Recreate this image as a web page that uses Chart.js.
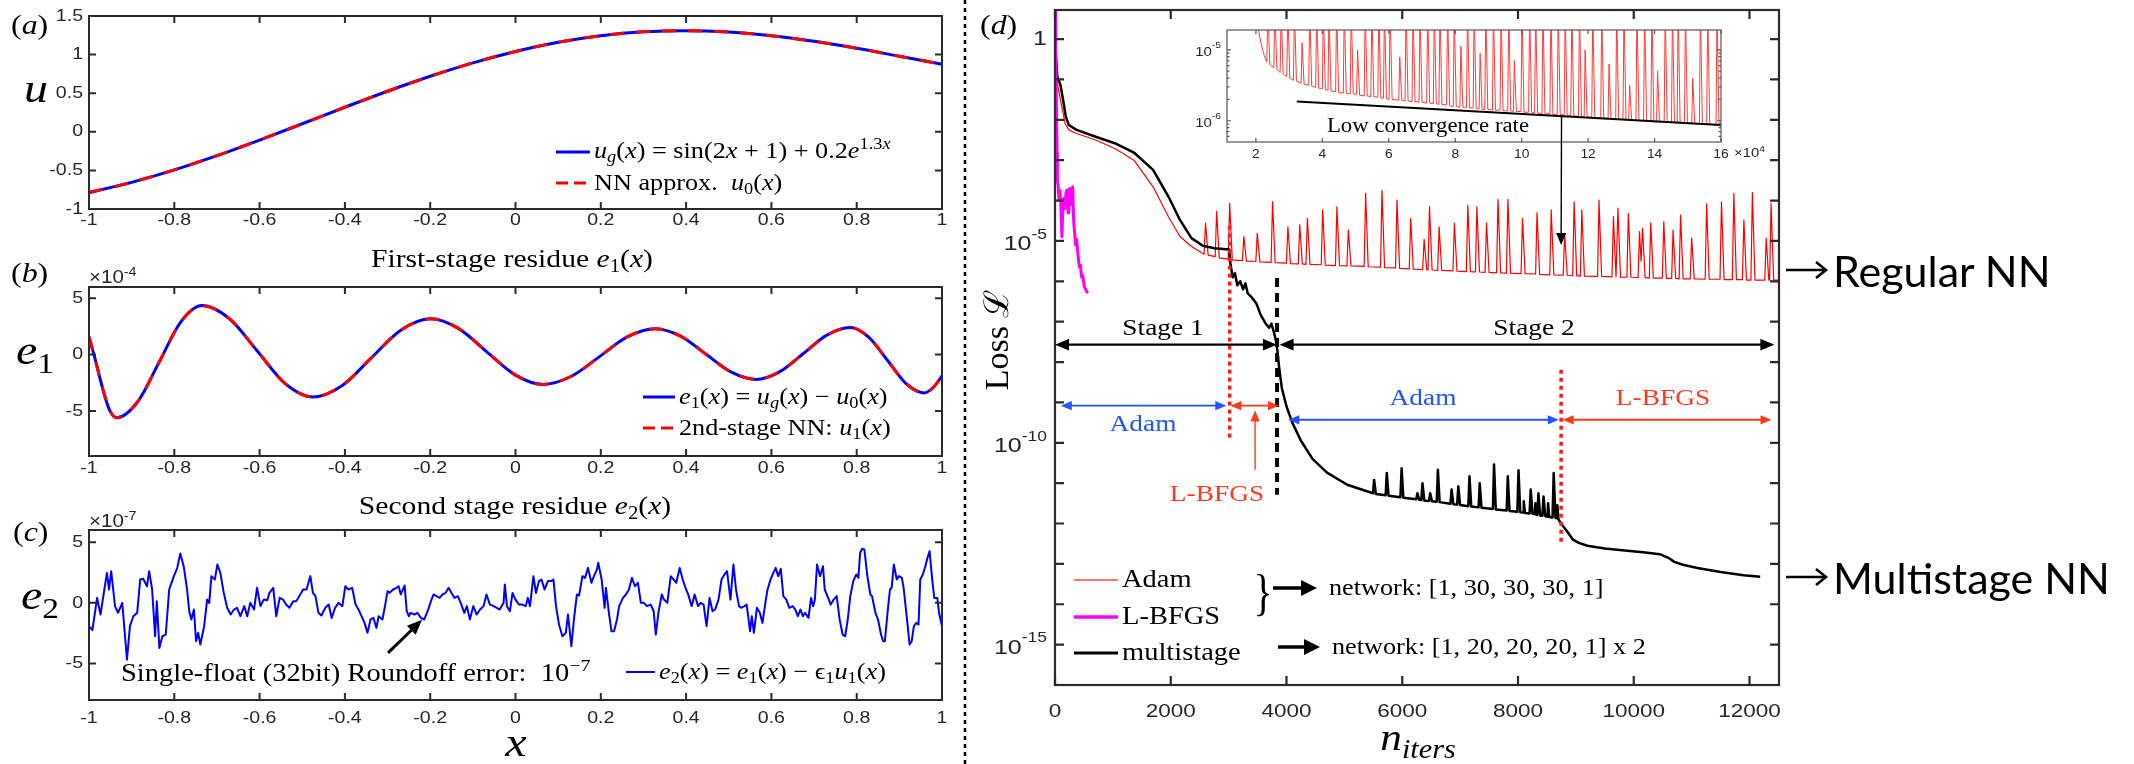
<!DOCTYPE html>
<html>
<head>
<meta charset="utf-8">
<script src="https://cdn.jsdelivr.net/npm/chart.js@4.4.0/dist/chart.umd.min.js"></script>
<style>
  html, body { margin: 0; padding: 0; background: #fff; }
  #page { position: relative; width: 2134px; height: 764px; overflow: hidden; }
  canvas { position: absolute; left: 0; top: 0; }
  svg { position: absolute; left: 0; top: 0; }
  .t { position: absolute; white-space: nowrap; line-height: 1; color: #000;
       font-family: "Liberation Serif", "DejaVu Serif", serif; }
  .c { transform: translate(-50%, -50%) scaleX(1.14); }
  .l { transform-origin: 0 50%; transform: translateY(-50%) scaleX(1.14); }
  .s { font-family: "Liberation Sans", Arial, sans-serif; color: #262626; }
  .n { font-family: Lato, "Open Sans", sans-serif; }
  sub, sup { font-size: 0.7em; line-height: 0; }
  sub { vertical-align: -0.3em; }
  sup { vertical-align: 0.55em; }
</style>
</head>
<body>
<div id="page">
  <canvas id="ca" width="2134" height="764"></canvas>
  <canvas id="cb" width="2134" height="764"></canvas>
  <canvas id="cc" width="2134" height="764"></canvas>
  <canvas id="cd" width="2134" height="764"></canvas>
  <canvas id="ci" width="2134" height="764"></canvas>

  <svg width="2134" height="764">
    <line x1="965" y1="0" x2="965" y2="764" stroke="#000" stroke-width="2.5" stroke-dasharray="4 4"/>
    <!-- legend samples (a), (b), (c) -->
    <line x1="556" y1="152" x2="590" y2="152" stroke="#0000ff" stroke-width="3"/>
    <line x1="556" y1="183" x2="590" y2="183" stroke="#ff0000" stroke-width="3" stroke-dasharray="12 6"/>
    <line x1="643" y1="397" x2="675" y2="397" stroke="#0000ff" stroke-width="3"/>
    <line x1="643" y1="428" x2="675" y2="428" stroke="#ff0000" stroke-width="3" stroke-dasharray="12 6"/>
    <line x1="626" y1="672" x2="655" y2="672" stroke="#0000ff" stroke-width="2"/>
    <!-- legend samples (d) -->
    <line x1="1074" y1="580" x2="1118" y2="580" stroke="#ff4d4d" stroke-width="1.6"/>
    <line x1="1074" y1="617" x2="1118" y2="617" stroke="#ff00ff" stroke-width="3.5"/>
    <line x1="1074" y1="653" x2="1118" y2="653" stroke="#000" stroke-width="3"/>
    <line x1="1273" y1="588" x2="1303" y2="588" stroke="#000" stroke-width="3.5"/>
    <polygon points="1301,580 1317,588 1301,596" fill="#000"/>
    <line x1="1278" y1="647" x2="1306" y2="647" stroke="#000" stroke-width="3.5"/>
    <polygon points="1304,639 1320,647 1304,655" fill="#000"/>
    <!-- side arrows -->
    <path d="M1786 270 H1826 M1816 262 L1826 270 L1816 278" stroke="#000" stroke-width="2.6" fill="none"/>
    <path d="M1786 577 H1826 M1816 569 L1826 577 L1816 585" stroke="#000" stroke-width="2.6" fill="none"/>
  </svg>

  <!-- panel (a) -->
  <div class="t l" style="left:11px;top:25px;font-size:28px">(<i>a</i>)</div>
  <div class="t c" style="left:36px;top:88px;font-size:42px"><i>u</i></div>
  <div class="t l" style="left:594px;top:150px;font-size:23px"><i>u<sub>g</sub></i>(<i>x</i>) = sin(2<i>x</i> + 1) + 0.2<i>e</i><sup>1.3<i>x</i></sup></div>
  <div class="t l" style="left:594px;top:182px;font-size:23px">NN approx.&nbsp; <i>u</i><sub>0</sub>(<i>x</i>)</div>
  <div class="t c" style="left:512px;top:259px;font-size:26px">First-stage residue <i>e</i><sub>1</sub>(<i>x</i>)</div>

  <!-- panel (b) -->
  <div class="t l" style="left:11px;top:273px;font-size:28px">(<i>b</i>)</div>
  <div class="t l s" style="left:89px;top:277px;font-size:18px">×10<sup>-4</sup></div>
  <div class="t c" style="left:35px;top:350px;font-size:42px"><i>e</i><sub>1</sub></div>
  <div class="t l" style="left:679px;top:396px;font-size:23px"><i>e</i><sub>1</sub>(<i>x</i>) = <i>u<sub>g</sub></i>(<i>x</i>) − <i>u</i><sub>0</sub>(<i>x</i>)</div>
  <div class="t l" style="left:679px;top:427px;font-size:23px">2nd-stage NN: <i>u</i><sub>1</sub>(<i>x</i>)</div>
  <div class="t c" style="left:515px;top:506px;font-size:26px">Second stage residue <i>e</i><sub>2</sub>(<i>x</i>)</div>

  <!-- panel (c) -->
  <div class="t l" style="left:13px;top:532px;font-size:28px">(<i>c</i>)</div>
  <div class="t l s" style="left:89px;top:521px;font-size:18px">×10<sup>-7</sup></div>
  <div class="t c" style="left:40px;top:595px;font-size:42px"><i>e</i><sub>2</sub></div>
  <div class="t l" style="left:121px;top:672px;font-size:25px">Single-float (32bit) Roundoff error:&nbsp; 10<sup>−7</sup></div>
  <div class="t l" style="left:659px;top:671px;font-size:23px"><i>e</i><sub>2</sub>(<i>x</i>) = <i>e</i><sub>1</sub>(<i>x</i>) − ϵ<sub>1</sub><i>u</i><sub>1</sub>(<i>x</i>)</div>
  <div class="t c" style="left:516px;top:742px;font-size:42px"><i>x</i></div>

  <!-- panel (d) -->
  <div class="t l" style="left:980px;top:25px;font-size:28px">(<i>d</i>)</div>
  <div class="t" style="left:997px;top:340px;font-size:34px;transform:translate(-50%,-50%) rotate(-90deg)">Loss ℒ</div>
  <div class="t c" style="left:1418px;top:737px;font-size:38px"><i>n<sub>iters</sub></i></div>
  <div class="t c" style="left:1163px;top:327px;font-size:24px">Stage 1</div>
  <div class="t c" style="left:1534px;top:327px;font-size:24px">Stage 2</div>
  <div class="t c" style="left:1143px;top:423px;font-size:24px;color:#2156ff">Adam</div>
  <div class="t c" style="left:1217px;top:493px;font-size:24px;color:#ff3a1a">L-BFGS</div>
  <div class="t c" style="left:1423px;top:397px;font-size:24px;color:#2156ff">Adam</div>
  <div class="t c" style="left:1663px;top:397px;font-size:24px;color:#ff3a1a">L-BFGS</div>
  <div class="t c" style="left:1428px;top:125px;font-size:20px">Low convergence rate</div>
  <div class="t l s" style="left:1734px;top:152px;font-size:13px">×10<sup>4</sup></div>
  <div class="t l" style="left:1122px;top:578px;font-size:25px">Adam</div>
  <div class="t l" style="left:1122px;top:615px;font-size:25px">L-BFGS</div>
  <div class="t l" style="left:1122px;top:651px;font-size:25px">multistage</div>
  <div class="t c" style="left:1263px;top:592px;font-size:50px;transform:translate(-50%,-50%) scaleX(0.8)">}</div>
  <div class="t l" style="left:1329px;top:587px;font-size:23px">network: [1, 30, 30, 30, 1]</div>
  <div class="t l" style="left:1332px;top:646px;font-size:23px">network: [1, 20, 20, 20, 1] x 2</div>
  <div class="t n" style="left:1833px;top:270px;font-size:43px;transform:translateY(-50%)">Regular NN</div>
  <div class="t n" style="left:1833px;top:577px;font-size:43px;transform:translateY(-50%)">Multistage NN</div>
</div>

<script>
const W = 2134, H = 764;

// ---------- panel (a): u(x) ----------
const xA = [-1, -0.9, -0.8, -0.7, -0.6, -0.5, -0.4, -0.3, -0.2, -0.1, 0, 0.1, 0.2, 0.3, 0.4, 0.5, 0.6, 0.7, 0.8, 0.9, 1];
const uExact = [-0.787, -0.655, -0.494, -0.309, -0.107, 0.104, 0.318, 0.525, 0.719, 0.893, 1.041, 1.160, 1.245, 1.295, 1.310, 1.292, 1.245, 1.172, 1.081, 0.979, 0.875];
const uNN    = [-0.787, -0.655, -0.494, -0.309, -0.107, 0.104, 0.318, 0.525, 0.719, 0.893, 1.041, 1.160, 1.245, 1.295, 1.310, 1.292, 1.245, 1.172, 1.081, 0.979, 0.875];

// ---------- panel (b): first-stage residue, units of 1e-4 ----------
const e1Resid = [[-1.000,1.6],[-0.985,-0.5],[-0.968,-3.0],[-0.952,-4.9],[-0.935,-5.6],[-0.885,-4.14],[-0.835,-0.63],[-0.785,2.89],[-0.735,4.35],[-0.670,3.16],[-0.605,0.30],[-0.540,-2.57],[-0.475,-3.76],[-0.406,-2.74],[-0.338,-0.29],[-0.269,2.16],[-0.200,3.18],[-0.134,2.33],[-0.068,0.27],[-0.001,-1.80],[0.065,-2.65],[0.131,-1.92],[0.197,-0.18],[0.262,1.57],[0.328,2.30],[0.387,1.64],[0.446,0.05],[0.505,-1.54],[0.564,-2.20],[0.619,-1.53],[0.675,0.10],[0.730,1.73],[0.785,2.40],[0.828,1.55],[0.872,-0.50],[0.915,-2.55],[0.958,-3.40],[0.980,-2.90],[1.000,-1.90]];
const e1NN = [[-1.000,1.6],[-0.985,-0.5],[-0.968,-3.0],[-0.952,-4.9],[-0.935,-5.6],[-0.885,-4.14],[-0.835,-0.63],[-0.785,2.89],[-0.735,4.35],[-0.670,3.16],[-0.605,0.30],[-0.540,-2.57],[-0.475,-3.76],[-0.406,-2.74],[-0.338,-0.29],[-0.269,2.16],[-0.200,3.18],[-0.134,2.33],[-0.068,0.27],[-0.001,-1.80],[0.065,-2.65],[0.131,-1.92],[0.197,-0.18],[0.262,1.57],[0.328,2.30],[0.387,1.64],[0.446,0.05],[0.505,-1.54],[0.564,-2.20],[0.619,-1.53],[0.675,0.10],[0.730,1.73],[0.785,2.40],[0.828,1.55],[0.872,-0.50],[0.915,-2.55],[0.958,-3.40],[0.980,-2.90],[1.000,-1.90]];

// ---------- panel (c): second-stage residue, units of 1e-7 ----------
const e2Resid = [[-1.000,-1.92],[-0.992,-2.25],[-0.981,0.41],[-0.973,-0.96],[-0.958,2.47],[-0.953,1.10],[-0.948,2.61],[-0.939,-0.27],[-0.932,-0.82],[-0.922,0.00],[-0.911,-4.67],[-0.904,-1.92],[-0.896,-1.10],[-0.887,-0.82],[-0.880,1.92],[-0.873,1.98],[-0.864,1.37],[-0.859,2.61],[-0.852,1.10],[-0.845,-2.75],[-0.841,0.14],[-0.835,-3.71],[-0.828,-2.75],[-0.820,-2.61],[-0.812,1.10],[-0.801,2.20],[-0.793,2.88],[-0.786,4.07],[-0.778,3.02],[-0.770,1.10],[-0.765,-0.69],[-0.760,-1.37],[-0.754,-0.55],[-0.749,-3.16],[-0.744,-2.47],[-0.739,-3.43],[-0.730,-1.92],[-0.723,0.27],[-0.718,0.00],[-0.713,2.20],[-0.705,1.92],[-0.699,3.16],[-0.692,2.47],[-0.684,0.82],[-0.676,-0.41],[-0.668,-0.96],[-0.660,-0.55],[-0.653,-0.41],[-0.645,-1.10],[-0.636,-0.27],[-0.629,-1.10],[-0.622,0.00],[-0.613,-0.55],[-0.606,1.24],[-0.598,-0.27],[-0.590,0.27],[-0.582,0.22],[-0.577,0.82],[-0.568,1.24],[-0.561,-1.10],[-0.553,0.41],[-0.545,0.27],[-0.538,-0.14],[-0.530,-0.41],[-0.521,0.14],[-0.514,0.14],[-0.507,0.55],[-0.498,1.10],[-0.490,1.10],[-0.481,2.20],[-0.475,0.82],[-0.469,0.55],[-0.462,-0.82],[-0.455,-1.04],[-0.446,-0.41],[-0.438,-0.14],[-0.431,-1.24],[-0.423,-0.41],[-0.415,0.00],[-0.406,-0.27],[-0.399,1.37],[-0.392,1.10],[-0.383,1.24],[-0.375,-0.14],[-0.368,-0.55],[-0.361,-1.10],[-0.354,-1.65],[-0.347,-2.47],[-0.340,-1.37],[-0.333,-1.24],[-0.326,-2.06],[-0.321,-1.10],[-0.312,-1.37],[-0.306,-0.27],[-0.300,0.96],[-0.295,0.82],[-0.287,1.10],[-0.279,1.24],[-0.274,1.37],[-0.269,0.69],[-0.260,1.43],[-0.255,-0.69],[-0.250,-1.10],[-0.246,-0.82],[-0.237,-0.96],[-0.230,-0.82],[-0.222,-1.24],[-0.214,-1.37],[-0.206,-0.69],[-0.197,0.27],[-0.192,0.69],[-0.185,0.55],[-0.178,0.41],[-0.171,0.69],[-0.164,0.82],[-0.157,1.24],[-0.150,0.82],[-0.143,0.41],[-0.135,0.55],[-0.127,-0.14],[-0.120,-0.82],[-0.114,-0.27],[-0.107,-1.37],[-0.099,-0.27],[-0.091,-0.96],[-0.083,-0.55],[-0.075,-0.27],[-0.068,0.69],[-0.060,-0.14],[-0.051,-0.27],[-0.044,-0.41],[-0.037,-0.55],[-0.028,0.00],[-0.025,1.51],[-0.020,-0.27],[-0.013,-0.69],[-0.007,0.82],[0.000,0.27],[0.008,-0.14],[0.016,-0.14],[0.024,-0.27],[0.029,0.41],[0.034,-0.27],[0.042,2.20],[0.048,0.82],[0.055,1.79],[0.061,1.92],[0.068,1.10],[0.076,1.79],[0.084,1.79],[0.089,1.92],[0.095,-0.27],[0.102,-1.79],[0.110,-2.75],[0.118,-2.47],[0.123,-0.96],[0.131,-3.57],[0.137,-1.37],[0.144,0.69],[0.149,0.60],[0.157,2.20],[0.163,2.06],[0.170,2.88],[0.178,1.65],[0.184,2.20],[0.191,2.75],[0.194,3.30],[0.202,1.92],[0.209,-0.41],[0.212,1.24],[0.219,-0.82],[0.225,-2.34],[0.231,-2.34],[0.238,-1.37],[0.243,-0.27],[0.252,0.41],[0.259,0.69],[0.266,1.10],[0.273,2.06],[0.280,1.37],[0.287,1.65],[0.294,0.00],[0.301,0.00],[0.308,-0.27],[0.317,-0.14],[0.324,-0.69],[0.329,-2.61],[0.335,-0.82],[0.343,0.69],[0.348,0.27],[0.356,0.00],[0.364,2.20],[0.371,1.92],[0.377,1.65],[0.385,2.88],[0.392,1.92],[0.400,1.10],[0.405,0.69],[0.413,-0.27],[0.420,0.69],[0.428,-0.27],[0.434,0.00],[0.441,-0.14],[0.448,-1.92],[0.455,0.41],[0.462,-0.69],[0.468,-0.55],[0.476,0.27],[0.483,1.92],[0.490,2.34],[0.496,2.61],[0.504,0.27],[0.511,3.16],[0.517,1.10],[0.524,-0.27],[0.529,-0.41],[0.537,-0.27],[0.542,-0.14],[0.550,-2.34],[0.554,-1.10],[0.559,-2.47],[0.566,-0.41],[0.573,-0.82],[0.579,-1.65],[0.587,0.27],[0.591,1.10],[0.598,1.92],[0.603,2.34],[0.610,2.88],[0.616,2.20],[0.622,2.80],[0.628,0.55],[0.635,0.27],[0.642,-0.41],[0.650,-0.27],[0.656,-0.55],[0.662,-1.10],[0.668,-0.55],[0.674,-1.10],[0.679,-0.82],[0.687,-1.24],[0.693,0.41],[0.698,-0.27],[0.702,0.27],[0.707,3.16],[0.714,2.20],[0.721,3.02],[0.725,1.10],[0.733,0.41],[0.739,-0.14],[0.746,0.27],[0.753,0.55],[0.760,-1.37],[0.767,-2.61],[0.773,-2.75],[0.779,-1.37],[0.785,0.55],[0.792,1.79],[0.799,2.34],[0.804,2.06],[0.808,4.12],[0.813,4.45],[0.818,4.40],[0.825,2.20],[0.832,0.69],[0.836,0.55],[0.844,-0.82],[0.850,-1.37],[0.857,-2.61],[0.862,-3.16],[0.866,-3.16],[0.873,-0.55],[0.878,1.10],[0.882,1.24],[0.887,3.16],[0.894,1.92],[0.899,2.20],[0.906,2.06],[0.910,1.24],[0.918,-1.37],[0.924,-3.43],[0.929,-3.16],[0.934,-1.92],[0.940,-1.65],[0.945,-1.79],[0.949,1.92],[0.955,2.34],[0.961,3.02],[0.966,3.71],[0.971,4.26],[0.977,1.92],[0.982,0.41],[0.989,0.41],[0.993,-0.82],[1.000,-1.92]];

// ---------- panel (d): loss vs iterations, [iteration, log10(loss)] ----------
const adamLoss = [[0,0.0],[41,-1.10],[95,-1.51],[175,-2.09],[240,-2.25],[372,-2.34],[703,-2.50],[1034,-2.71],[1364,-3.00],[1695,-3.66],[1960,-4.40],[2159,-4.89],[2358,-5.14],[2576,-5.33],[2601,-4.56],[2646,-5.35],[2768,-5.39],[2793,-4.27],[2838,-5.42],[2993,-5.45],[3018,-4.07],[3063,-5.47],[3238,-5.49],[3263,-4.89],[3308,-5.50],[3470,-5.51],[3495,-4.81],[3540,-5.52],[3734,-5.53],[3759,-4.03],[3804,-5.54],[3999,-5.55],[4024,-4.65],[4069,-5.56],[4204,-5.57],[4229,-4.60],[4274,-5.57],[4336,-5.58],[4361,-4.44],[4406,-5.58],[4600,-5.59],[4625,-4.23],[4670,-5.60],[4846,-5.61],[4871,-4.15],[4916,-5.61],[5044,-5.62],[5069,-4.73],[5114,-5.62],[5342,-5.63],[5367,-3.82],[5412,-5.64],[5625,-5.65],[5650,-3.75],[5695,-5.66],[5884,-5.67],[5909,-3.99],[5954,-5.68],[6121,-5.69],[6146,-4.44],[6191,-5.70],[6353,-5.71],[6378,-4.96],[6423,-5.71],[6446,-5.72],[6471,-4.15],[6516,-5.72],[6612,-5.73],[6637,-4.65],[6682,-5.73],[6876,-5.74],[6901,-4.56],[6946,-5.75],[7108,-5.76],[7133,-4.11],[7178,-5.76],[7265,-5.77],[7290,-4.15],[7335,-5.77],[7431,-5.78],[7456,-4.55],[7501,-5.78],[7630,-5.79],[7655,-3.97],[7700,-5.79],[7801,-5.80],[7826,-3.97],[7871,-5.80],[8053,-5.81],[8078,-4.44],[8123,-5.81],[8304,-5.82],[8329,-4.30],[8374,-5.83],[8549,-5.84],[8574,-4.23],[8619,-5.84],[8781,-5.85],[8806,-4.81],[8851,-5.85],[8945,-5.86],[8970,-4.03],[9015,-5.86],[9078,-5.87],[9103,-4.23],[9148,-5.87],[9375,-5.88],[9400,-3.99],[9445,-5.88],[9624,-5.89],[9649,-4.40],[9694,-5.89],[9702,-5.89],[9727,-4.19],[9772,-5.90],[9882,-5.90],[9907,-4.32],[9952,-5.90],[10075,-5.91],[10100,-4.77],[10126,-5.50],[10152,-4.69],[10197,-5.91],[10269,-5.92],[10294,-4.55],[10339,-5.92],[10494,-5.92],[10519,-4.52],[10564,-5.93],[10655,-5.93],[10680,-4.73],[10725,-5.93],[10784,-5.94],[10809,-4.36],[10854,-5.94],[10976,-5.94],[11001,-4.93],[11046,-5.94],[11234,-5.95],[11259,-4.08],[11304,-5.95],[11491,-5.95],[11516,-4.03],[11561,-5.96],[11704,-5.96],[11729,-3.82],[11774,-5.96],[11878,-5.96],[11903,-4.48],[11948,-5.97],[12025,-5.97],[12050,-3.80],[12095,-5.97],[12264,-5.97],[12289,-4.93],[12334,-5.97],[12348,-5.97],[12373,-4.07],[12418,-5.97],[12520,-5.97]];
const lbfgsLoss = [[0,0.8],[12,-0.2],[25,-1.6],[35,-2.8],[41,-3.5],[55,-3.66],[70,-4.0],[85,-3.75],[100,-4.05],[120,-4.9],[135,-4.2],[150,-3.95],[170,-4.2],[190,-3.8],[207,-3.74],[225,-4.3],[240,-3.75],[254,-3.7],[272,-4.1],[290,-3.9],[306,-3.66],[322,-4.5],[339,-4.81],[355,-5.1],[372,-4.95],[395,-5.3],[420,-5.65],[439,-5.6],[460,-5.9],[480,-5.85],[505,-6.13],[530,-6.2],[550,-6.26],[570,-6.29]];
const multiLoss = [[0,-0.15],[41,-0.93],[95,-1.14],[140,-1.51],[187,-1.92],[240,-2.13],[372,-2.25],[703,-2.42],[1034,-2.58],[1364,-2.81],[1695,-3.24],[1960,-3.90],[2159,-4.48],[2358,-4.93],[2555,-5.12],[2754,-5.18],[3010,-5.21],[3030,-5.55],[3070,-5.90],[3110,-5.80],[3150,-6.10],[3200,-6.00],[3250,-6.20],[3290,-6.05],[3330,-6.30],[3400,-6.40],[3480,-6.55],[3560,-6.85],[3640,-7.05],[3700,-7.15],[3740,-7.05],[3790,-7.30],[3830,-7.55],[3870,-8.10],[3920,-8.65],[4000,-9.10],[4100,-9.50],[4250,-9.95],[4450,-10.40],[4700,-10.74],[5050,-11.04],[5494,-11.25],[5514,-10.92],[5544,-11.27],[5713,-11.30],[5733,-10.75],[5763,-11.31],[5969,-11.35],[5989,-10.63],[6019,-11.36],[6242,-11.40],[6262,-11.25],[6292,-11.41],[6330,-11.42],[6350,-11.00],[6380,-11.43],[6463,-11.44],[6483,-11.25],[6513,-11.45],[6596,-11.46],[6616,-10.67],[6646,-11.47],[6833,-11.51],[6853,-11.16],[6883,-11.52],[6949,-11.53],[6969,-11.08],[6999,-11.54],[7142,-11.57],[7162,-10.83],[7192,-11.58],[7319,-11.60],[7339,-11.00],[7369,-11.61],[7566,-11.64],[7586,-10.54],[7616,-11.65],[7804,-11.68],[7824,-10.83],[7854,-11.69],[7989,-11.71],[8009,-10.68],[8039,-11.72],[8090,-11.73],[8100,-11.45],[8120,-11.74],[8200,-11.75],[8220,-11.16],[8250,-11.76],[8290,-11.77],[8300,-11.50],[8320,-11.78],[8333,-11.79],[8353,-11.25],[8383,-11.80],[8421,-11.81],[8441,-11.33],[8471,-11.82],[8510,-11.83],[8520,-11.50],[8540,-11.84],[8597,-11.85],[8617,-10.75],[8647,-11.86],[8670,-11.87],[8680,-11.55],[8700,-11.90],[8760,-12.03],[8850,-12.20],[8950,-12.40],[9050,-12.48],[9200,-12.55],[9500,-12.62],[9800,-12.66],[10200,-12.72],[10450,-12.76],[10600,-12.85],[10700,-12.95],[10850,-13.02],[11100,-13.10],[11500,-13.20],[11900,-13.28],[12185,-13.32]];
const splitLbfgs1 = [[3018,-4.62],[3018,-9.90]];
const splitStage  = [[3837,-5.92],[3837,-11.29]];
const splitLbfgs2 = [[8745,-8.19],[8745,-12.52]];

// inset: [iteration / 1e4, log10(loss)]
const insetAdam = [[1.98,-4.5],[2.08,-4.72],[2.15,-4.9],[2.25,-5.08],[2.33,-5.17],[2.36,-4.4],[2.42,-5.21],[2.54,-5.25],[2.57,-4.4],[2.63,-5.27],[2.73,-5.32],[2.76,-4.4],[2.82,-5.34],[2.93,-5.38],[2.96,-4.4],[3.02,-5.40],[3.13,-5.43],[3.16,-4.4],[3.22,-5.44],[3.36,-5.47],[3.39,-4.9],[3.45,-5.48],[3.59,-5.50],[3.62,-4.4],[3.68,-5.51],[3.80,-5.53],[3.83,-4.4],[3.89,-5.54],[4.00,-5.55],[4.03,-4.4],[4.09,-5.56],[4.17,-5.57],[4.20,-4.4],[4.26,-5.58],[4.40,-5.59],[4.43,-4.4],[4.49,-5.60],[4.63,-5.61],[4.66,-4.4],[4.72,-5.61],[4.84,-5.62],[4.87,-4.4],[4.93,-5.62],[5.03,-5.63],[5.06,-5.0],[5.12,-5.64],[5.26,-5.65],[5.29,-4.4],[5.35,-5.65],[5.46,-5.66],[5.49,-4.4],[5.55,-5.66],[5.67,-5.67],[5.70,-4.4],[5.76,-5.68],[5.84,-5.68],[5.87,-4.4],[5.93,-5.69],[6.01,-5.70],[6.04,-4.4],[6.10,-5.70],[6.30,-5.71],[6.33,-5.1],[6.39,-5.71],[6.49,-5.72],[6.52,-4.4],[6.58,-5.72],[6.70,-5.73],[6.73,-4.4],[6.79,-5.73],[6.91,-5.74],[6.94,-4.4],[7.00,-5.74],[7.14,-5.75],[7.17,-4.4],[7.23,-5.75],[7.34,-5.76],[7.37,-4.4],[7.43,-5.76],[7.51,-5.77],[7.54,-4.4],[7.60,-5.77],[7.74,-5.78],[7.77,-4.4],[7.83,-5.79],[7.94,-5.80],[7.97,-4.4],[8.03,-5.80],[8.14,-5.81],[8.17,-4.95],[8.23,-5.81],[8.34,-5.81],[8.37,-4.4],[8.43,-5.82],[8.54,-5.82],[8.57,-4.4],[8.63,-5.83],[8.72,-5.83],[8.75,-5.05],[8.81,-5.84],[8.89,-5.84],[8.92,-4.4],[8.98,-5.84],[9.12,-5.85],[9.15,-4.4],[9.21,-5.85],[9.35,-5.85],[9.38,-4.4],[9.44,-5.86],[9.58,-5.86],[9.61,-4.4],[9.67,-5.86],[9.75,-5.87],[9.78,-5.15],[9.84,-5.87],[9.98,-5.87],[10.01,-4.4],[10.07,-5.88],[10.21,-5.88],[10.24,-4.4],[10.30,-5.88],[10.39,-5.89],[10.42,-4.4],[10.48,-5.89],[10.61,-5.90],[10.64,-4.4],[10.70,-5.90],[10.85,-5.90],[10.88,-4.4],[10.94,-5.91],[11.07,-5.91],[11.10,-4.4],[11.16,-5.91],[11.28,-5.92],[11.31,-4.4],[11.37,-5.92],[11.48,-5.93],[11.51,-4.4],[11.57,-5.93],[11.71,-5.94],[11.74,-4.4],[11.80,-5.94],[11.88,-5.95],[11.91,-5.0],[11.97,-5.95],[12.11,-5.95],[12.14,-4.4],[12.20,-5.96],[12.38,-5.96],[12.41,-4.4],[12.47,-5.96],[12.60,-5.97],[12.63,-5.2],[12.69,-5.97],[12.83,-5.98],[12.86,-4.4],[12.92,-5.98],[13.05,-5.98],[13.08,-4.4],[13.14,-5.98],[13.22,-5.99],[13.25,-5.5],[13.31,-5.99],[13.44,-6.00],[13.47,-4.4],[13.53,-6.00],[13.67,-6.00],[13.70,-4.4],[13.76,-6.00],[13.89,-6.01],[13.92,-4.4],[13.98,-6.01],[14.06,-6.02],[14.09,-5.3],[14.15,-6.02],[14.29,-6.02],[14.32,-4.4],[14.38,-6.02],[14.51,-6.03],[14.54,-4.4],[14.60,-6.03],[14.68,-6.03],[14.71,-4.4],[14.77,-6.03],[14.90,-6.04],[14.93,-4.4],[14.99,-6.04],[15.12,-6.04],[15.15,-5.4],[15.21,-6.04],[15.35,-6.05],[15.38,-4.4],[15.44,-6.05],[15.57,-6.05],[15.60,-4.4],[15.66,-6.05],[15.85,-6.06],[15.88,-4.4],[15.94,-6.06],[16.0,-6.06]];
const insetRate = [[3.23,-5.73],[16.0,-6.06]];

// ---------- ticks ----------
const xTicksABC = [-1, -0.8, -0.6, -0.4, -0.2, 0, 0.2, 0.4, 0.6, 0.8, 1];
const yTicksA = [-1, -0.5, 0, 0.5, 1, 1.5];
const yTicksBC = [-5, 0, 5];
const xTicksD = [0, 2000, 4000, 6000, 8000, 10000, 12000];
const yDecadesD = [0, -1, -2, -3, -4, -5, -6, -7, -8, -9, -10, -11, -12, -13, -14, -15, -16];
const yLabelsD = [0, -5, -10, -15];
const xTicksInset = [2, 4, 6, 8, 10, 12, 14, 16];
const yLabelsInset = [-5, -6];
const yMinorInset = [6e-7, 7e-7, 8e-7, 9e-7, 2e-6, 3e-6, 4e-6, 5e-6, 6e-6, 7e-6, 8e-6, 9e-6];

// annotations in (d), data coordinates [iteration, log10 loss]
const dArrows = [
  { from: [0, -7.57],     to: [3835, -7.57],  color: '#000',    lw: 2.2, head: 14, both: true },
  { from: [3880, -7.57],  to: [12430, -7.57], color: '#000',    lw: 2.2, head: 14, both: true },
  { from: [100, -9.08],   to: [2960, -9.08],  color: '#2156ff', lw: 1.8, head: 11, both: true },
  { from: [3030, -9.08],  to: [3870, -9.08],  color: '#ff3a1a', lw: 1.8, head: 11, both: true },
  { from: [3457, -10.67], to: [3457, -9.20],  color: '#ff3a1a', lw: 1.4, head: 11, both: false },
  { from: [4030, -9.43],  to: [8705, -9.43],  color: '#2156ff', lw: 1.8, head: 11, both: true },
  { from: [8770, -9.43],  to: [12380, -9.43], color: '#ff3a1a', lw: 1.8, head: 11, both: true },
];
const cArrow = { from: [-0.299, -4.12], to: [-0.219, -1.40] };

// ---------- helpers ----------
const xy = pairs => pairs.map(([x, y]) => ({ x, y }));
const xyLog = pairs => pairs.map(([x, e]) => ({ x, y: Math.pow(10, e) }));
const zipXY = (xs, ys) => xs.map((x, i) => ({ x, y: ys[i] }));

function stretchText(ctx, text, x, y, align, sx) {
  ctx.save();
  ctx.translate(x, y);
  ctx.scale(sx, 1);
  ctx.textAlign = align;
  ctx.fillText(text, 0, 0);
  ctx.restore();
}

function arrow(ctx, x1, y1, x2, y2, color, lw, head, both) {
  const ang = Math.atan2(y2 - y1, x2 - x1);
  const hw = head * 0.42;
  ctx.save();
  ctx.strokeStyle = color; ctx.fillStyle = color; ctx.lineWidth = lw;
  const sx = both ? x1 + Math.cos(ang) * head * 0.8 : x1, sy = both ? y1 + Math.sin(ang) * head * 0.8 : y1;
  const ex = x2 - Math.cos(ang) * head * 0.8, ey = y2 - Math.sin(ang) * head * 0.8;
  ctx.beginPath(); ctx.moveTo(sx, sy); ctx.lineTo(ex, ey); ctx.stroke();
  const tip = (tx, ty, a) => {
    ctx.beginPath();
    ctx.moveTo(tx, ty);
    ctx.lineTo(tx - Math.cos(a) * head + Math.sin(a) * hw, ty - Math.sin(a) * head - Math.cos(a) * hw);
    ctx.lineTo(tx - Math.cos(a) * head - Math.sin(a) * hw, ty - Math.sin(a) * head + Math.cos(a) * hw);
    ctx.closePath(); ctx.fill();
  };
  tip(x2, y2, ang);
  if (both) tip(x1, y1, ang + Math.PI);
  ctx.restore();
}

// MATLAB-like box: inward ticks on all four sides, labels drawn through the scales
function drawFrame(chart, f) {
  const ctx = chart.ctx, a = chart.chartArea, sx = chart.scales.x, sy = chart.scales.y;
  const yv = v => f.log ? Math.pow(10, v) : v;
  ctx.save();
  ctx.strokeStyle = f.color; ctx.lineWidth = f.lw;
  ctx.beginPath();
  f.xTicks.forEach(v => {
    const p = sx.getPixelForValue(v);
    ctx.moveTo(p, a.bottom); ctx.lineTo(p, a.bottom - f.len);
    ctx.moveTo(p, a.top); ctx.lineTo(p, a.top + f.len);
  });
  f.yTicks.forEach(v => {
    const p = sy.getPixelForValue(yv(v));
    ctx.moveTo(a.left, p); ctx.lineTo(a.left + f.len, p);
    ctx.moveTo(a.right, p); ctx.lineTo(a.right - f.len, p);
  });
  (f.yMinor || []).forEach(v => {
    const p = sy.getPixelForValue(v);
    ctx.moveTo(a.left, p); ctx.lineTo(a.left + f.minorLen, p);
    ctx.moveTo(a.right, p); ctx.lineTo(a.right - f.minorLen, p);
  });
  ctx.stroke();
  ctx.strokeRect(a.left, a.top, a.right - a.left, a.bottom - a.top);

  ctx.fillStyle = '#262626';
  ctx.textBaseline = 'middle';
  ctx.font = f.xFont;
  f.xTicks.forEach(v => stretchText(ctx, String(v), sx.getPixelForValue(v), a.bottom + f.xDy, 'center', f.sx));
  if (!f.log) {
    ctx.font = f.yFont;
    f.yTicks.forEach(v => stretchText(ctx, String(v), a.left - f.yDx, sy.getPixelForValue(v), 'right', f.sx));
  } else {
    f.yLabels.forEach(e => {
      const p = sy.getPixelForValue(Math.pow(10, e));
      if (e === 0) {
        ctx.font = f.yFont;
        stretchText(ctx, '1', a.left - f.yDx, p, 'right', f.sx);
        return;
      }
      ctx.font = f.yFont;
      const wb = ctx.measureText('10').width * f.sx;
      ctx.font = f.supFont;
      const ws = ctx.measureText(String(e)).width * f.sx;
      const x0 = a.left - f.yDx - ws - wb;
      ctx.font = f.yFont;
      stretchText(ctx, '10', x0, p + f.baseDy, 'left', f.sx);
      ctx.font = f.supFont;
      stretchText(ctx, String(e), x0 + wb, p + f.supDy, 'left', f.sx);
    });
  }
  ctx.restore();
}

function makeChart(id, area, scales, datasets, frame, extra) {
  return new Chart(document.getElementById(id), {
    type: 'line',
    data: { datasets },
    options: {
      responsive: false,
      animation: false,
      events: [],
      devicePixelRatio: 1,
      layout: { padding: { left: area.l, top: area.t, right: W - area.r, bottom: H - area.b } },
      plugins: { legend: { display: false }, tooltip: { enabled: false } },
      elements: { point: { radius: 0 }, line: { tension: 0, borderJoinStyle: 'round' } },
      scales: {
        x: Object.assign({ type: 'linear', display: false }, scales.x),
        y: Object.assign({ type: 'linear', display: false }, scales.y),
      },
    },
    plugins: [{
      id: 'frame_' + id,
      beforeDatasetsDraw(chart) {
        if (!frame.bg) return;
        const a = chart.chartArea;
        chart.ctx.save();
        chart.ctx.fillStyle = '#fff';
        chart.ctx.fillRect(a.left, a.top, a.right - a.left, a.bottom - a.top);
        chart.ctx.restore();
      },
      afterDatasetsDraw(chart) {
        drawFrame(chart, frame);
        if (extra) extra(chart);
      },
    }],
  });
}

const frameABC = {
  xTicks: xTicksABC, len: 7, lw: 2, color: '#2b2b2b', sx: 1.15,
  xFont: '17px "Liberation Sans", Arial, sans-serif', yFont: '17px "Liberation Sans", Arial, sans-serif',
  yDx: 6,
};

// (a)
makeChart('ca', { l: 89, t: 16, r: 942, b: 209 },
  { x: { min: -1, max: 1 }, y: { min: -1, max: 1.5 } },
  [
    { data: zipXY(xA, uNN), borderColor: '#ff0000', borderWidth: 3, borderDash: [14, 12], cubicInterpolationMode: 'monotone' },
    { data: zipXY(xA, uExact), borderColor: '#0000ff', borderWidth: 3, cubicInterpolationMode: 'monotone' },
  ],
  Object.assign({}, frameABC, { yTicks: yTicksA, xDy: 11 }));

// (b)
makeChart('cb', { l: 89, t: 287, r: 942, b: 456 },
  { x: { min: -1, max: 1 }, y: { min: -9, max: 6 } },
  [
    { data: xy(e1NN), borderColor: '#ff0000', borderWidth: 3, borderDash: [14, 12], cubicInterpolationMode: 'monotone' },
    { data: xy(e1Resid), borderColor: '#0000ff', borderWidth: 3, cubicInterpolationMode: 'monotone' },
  ],
  Object.assign({}, frameABC, { yTicks: yTicksBC, xDy: 12 }));

// (c)
makeChart('cc', { l: 89, t: 530, r: 942, b: 700 },
  { x: { min: -1, max: 1 }, y: { min: -8, max: 6 } },
  [ { data: xy(e2Resid), borderColor: '#0000ff', borderWidth: 2 } ],
  Object.assign({}, frameABC, { yTicks: yTicksBC, xDy: 18 }),
  chart => {
    const sx = chart.scales.x, sy = chart.scales.y;
    arrow(chart.ctx, sx.getPixelForValue(cArrow.from[0]), sy.getPixelForValue(cArrow.from[1]),
      sx.getPixelForValue(cArrow.to[0]), sy.getPixelForValue(cArrow.to[1]), '#000', 3, 15, false);
  });

// (d)
const chartD = makeChart('cd', { l: 1055, t: 10, r: 1779, b: 685 },
  { x: { min: 0, max: 12510 }, y: { type: 'logarithmic', min: 1e-16, max: Math.pow(10, 0.72) } },
  [
    { data: xyLog(splitLbfgs1), borderColor: '#ff1a1a', borderWidth: 3.5, borderDash: [4, 4] },
    { data: xyLog(splitLbfgs2), borderColor: '#ff1a1a', borderWidth: 3.5, borderDash: [4, 4] },
    { data: xyLog(splitStage), borderColor: '#000', borderWidth: 4, borderDash: [9, 6] },
    { data: xyLog(lbfgsLoss), borderColor: '#ff00ff', borderWidth: 3 },
    { data: xyLog(multiLoss), borderColor: '#000', borderWidth: 2.5 },
    { data: xyLog(adamLoss), borderColor: '#ff0000', borderWidth: 1.2 },
  ],
  {
    xTicks: xTicksD, yTicks: yDecadesD, log: true, yLabels: yLabelsD,
    len: 9, lw: 2.2, color: '#2b2b2b', sx: 1.25,
    xFont: '18px "Liberation Sans", Arial, sans-serif', yFont: '20px "Liberation Sans", Arial, sans-serif',
    supFont: '14px "Liberation Sans", Arial, sans-serif',
    xDy: 27, yDx: 8, baseDy: 4, supDy: -6,
  },
  chart => {
    const sx = chart.scales.x, sy = chart.scales.y;
    dArrows.forEach(a => arrow(chart.ctx,
      sx.getPixelForValue(a.from[0]), sy.getPixelForValue(Math.pow(10, a.from[1])),
      sx.getPixelForValue(a.to[0]), sy.getPixelForValue(Math.pow(10, a.to[1])),
      a.color, a.lw, a.head, a.both));
  });

// inset
makeChart('ci', { l: 1227, t: 30, r: 1721, b: 142 },
  { x: { min: 1.13, max: 16 }, y: { type: 'logarithmic', min: Math.pow(10, -6.3), max: Math.pow(10, -4.72) } },
  [
    { data: xyLog(insetRate), borderColor: '#000', borderWidth: 2 },
    { data: xyLog(insetAdam), borderColor: '#ff3b3b', borderWidth: 1 },
  ],
  {
    bg: true, xTicks: xTicksInset, yTicks: yLabelsInset, yMinor: yMinorInset, minorLen: 2.5, log: true, yLabels: yLabelsInset,
    len: 4, lw: 1.2, color: '#555', sx: 1.15,
    xFont: '12px "Liberation Sans", Arial, sans-serif', yFont: '13px "Liberation Sans", Arial, sans-serif',
    supFont: '9px "Liberation Sans", Arial, sans-serif',
    xDy: 13, yDx: 6, baseDy: 3, supDy: -4,
  },
  chart => {
    // arrow from the inset's rate line down to the main Adam curve
    const sx = chart.scales.x, sy = chart.scales.y, dx = chartD.scales.x, dy = chartD.scales.y;
    arrow(chart.ctx, sx.getPixelForValue(11.2), sy.getPixelForValue(Math.pow(10, -5.935)),
      dx.getPixelForValue(8745), dy.getPixelForValue(Math.pow(10, -5.1)), '#000', 1.4, 12, false);
  });
</script>
</body>
</html>
